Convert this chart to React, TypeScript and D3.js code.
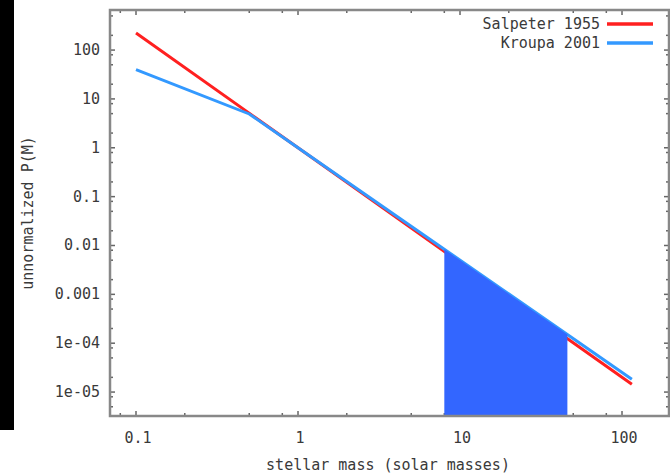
import React from "react";
import * as d3 from "d3";

// Mass function samples (mass in solar masses, unnormalized P(M))
const salpeterMass = [0.1, 1, 115];
const salpeterP = [224, 1, 1.44e-5];
const kroupaMass = [0.1, 0.5, 1, 115];
const kroupaP = [39.8, 4.92, 1, 1.82e-5];

// Shaded mass interval under the Kroupa curve
const shadeMass = [8, 46];
const shadeP = [8.37e-3, 1.5e-4];

const xTickValues = [0.1, 1, 10, 100];
const xTickLabels = ["0.1", "1", "10", "100"];
const yTickValues = [100, 10, 1, 0.1, 0.01, 0.001, 1e-4, 1e-5];
const yTickLabels = ["100", "10", "1", "0.1", "0.01", "0.001", "1e-04", "1e-05"];
const minorMultipliers = [2, 5, 8];

const seriesNames = ["Salpeter 1955", "Kroupa 2001"];
const seriesColors = ["#ff2020", "#3399ff"];
const shadeColor = "#3366ff";

const W = 670;
const H = 474;
const left = 110;
const right = 669;
const top = 10;
const bottom = 416;

const FONT = "'DejaVu Sans Mono', 'Liberation Mono', monospace";
const TEXT = "#3a3a3a";

export default function App() {
  const x = d3
    .scaleLog()
    .domain([Math.pow(10, -1.1605), Math.pow(10, 2.29)])
    .range([left, right]);
  const y = d3
    .scaleLog()
    .domain([Math.pow(10, -5.49), Math.pow(10, 2.82)])
    .range([bottom, top]);

  const line = d3
    .line<[number, number]>()
    .x((d) => x(d[0]))
    .y((d) => y(d[1]));

  const salpeter = salpeterMass.map((m, i) => [m, salpeterP[i]] as [number, number]);
  const kroupa = kroupaMass.map((m, i) => [m, kroupaP[i]] as [number, number]);

  const [yLo] = y.domain();
  const area = d3
    .area<[number, number]>()
    .x((d) => x(d[0]))
    .y0(() => y(yLo))
    .y1((d) => y(d[1]));
  const shade = shadeMass.map((m, i) => [m, shadeP[i]] as [number, number]);

  // minor ticks at 2, 5, 8 times each decade
  const [xLo, xHi] = x.domain();
  const xMinor: number[] = [];
  for (let e = -2; e <= 3; e++) {
    for (const k of minorMultipliers) {
      const v = k * Math.pow(10, e);
      if (v > xLo && v < xHi) xMinor.push(v);
    }
  }
  const [yMin, yMax] = y.domain();
  const yMinor: number[] = [];
  for (let e = -7; e <= 3; e++) {
    for (const k of minorMultipliers) {
      const v = k * Math.pow(10, e);
      if (v > yMin && v < yMax) yMinor.push(v);
    }
  }

  const majorLen = 5;
  const minorLen = 3;
  const tickStroke = "#666";

  return (
    <svg
      width={W}
      height={H}
      style={{ position: "fixed", left: 0, top: 0, background: "#fff" }}
    >
      <rect x={0} y={0} width={W} height={H} fill="#fff" />
      <rect x={0} y={0} width={14} height={430} fill="#000" />

      <defs>
        <clipPath id="plotClip">
          <rect x={left} y={top} width={right - left} height={bottom - top} />
        </clipPath>
      </defs>

      {/* ticks on all four sides */}
      <g stroke={tickStroke} strokeWidth={1.5}>
        {xTickValues.map((v) => (
          <g key={"xm" + v}>
            <line x1={x(v)} x2={x(v)} y1={bottom} y2={bottom - majorLen} />
            <line x1={x(v)} x2={x(v)} y1={top} y2={top + majorLen} />
          </g>
        ))}
        {xMinor.map((v) => (
          <g key={"xn" + v}>
            <line x1={x(v)} x2={x(v)} y1={bottom} y2={bottom - minorLen} />
            <line x1={x(v)} x2={x(v)} y1={top} y2={top + minorLen} />
          </g>
        ))}
        {yTickValues.map((v) => (
          <g key={"ym" + v}>
            <line x1={left} x2={left + majorLen} y1={y(v)} y2={y(v)} />
            <line x1={right} x2={right - majorLen} y1={y(v)} y2={y(v)} />
          </g>
        ))}
        {yMinor.map((v) => (
          <g key={"yn" + v}>
            <line x1={left} x2={left + minorLen} y1={y(v)} y2={y(v)} />
            <line x1={right} x2={right - minorLen} y1={y(v)} y2={y(v)} />
          </g>
        ))}
      </g>

      <g clipPath="url(#plotClip)">
        <path d={line(salpeter) ?? ""} fill="none" stroke={seriesColors[0]} strokeWidth={3} />
        <path d={line(kroupa) ?? ""} fill="none" stroke={seriesColors[1]} strokeWidth={3} />
        <path d={area(shade) ?? ""} fill={shadeColor} />
      </g>

      {/* frame */}
      <rect
        x={left}
        y={top}
        width={right - left}
        height={bottom - top}
        fill="none"
        stroke="#888"
        strokeWidth={2.5}
      />

      {/* tick labels */}
      <g fontFamily={FONT} fontSize={15} fill={TEXT}>
        {xTickValues.map((v, i) => (
          <text key={"xl" + v} x={x(v) + 2} y={438} textAnchor="middle" dominantBaseline="central">
            {xTickLabels[i]}
          </text>
        ))}
        {yTickValues.map((v, i) => (
          <text key={"yl" + v} x={100} y={y(v)} textAnchor="end" dominantBaseline="central">
            {yTickLabels[i]}
          </text>
        ))}
      </g>

      {/* axis titles */}
      <text
        x={388}
        y={465}
        textAnchor="middle"
        dominantBaseline="central"
        fontFamily={FONT}
        fontSize={15}
        fill={TEXT}
      >
        stellar mass (solar masses)
      </text>
      <text
        transform={`translate(28,213) rotate(-90)`}
        textAnchor="middle"
        dominantBaseline="central"
        fontFamily={FONT}
        fontSize={15}
        fill={TEXT}
      >
        unnormalized P(M)
      </text>

      {/* legend */}
      <g fontFamily={FONT} fontSize={15} fill={TEXT}>
        {seriesNames.map((name, i) => (
          <g key={name}>
            <text x={600} y={24 + i * 19} textAnchor="end" dominantBaseline="central">
              {name}
            </text>
            <line
              x1={607}
              x2={653}
              y1={24 + i * 19}
              y2={24 + i * 19}
              stroke={seriesColors[i]}
              strokeWidth={3.5}
            />
          </g>
        ))}
      </g>
    </svg>
  );
}
